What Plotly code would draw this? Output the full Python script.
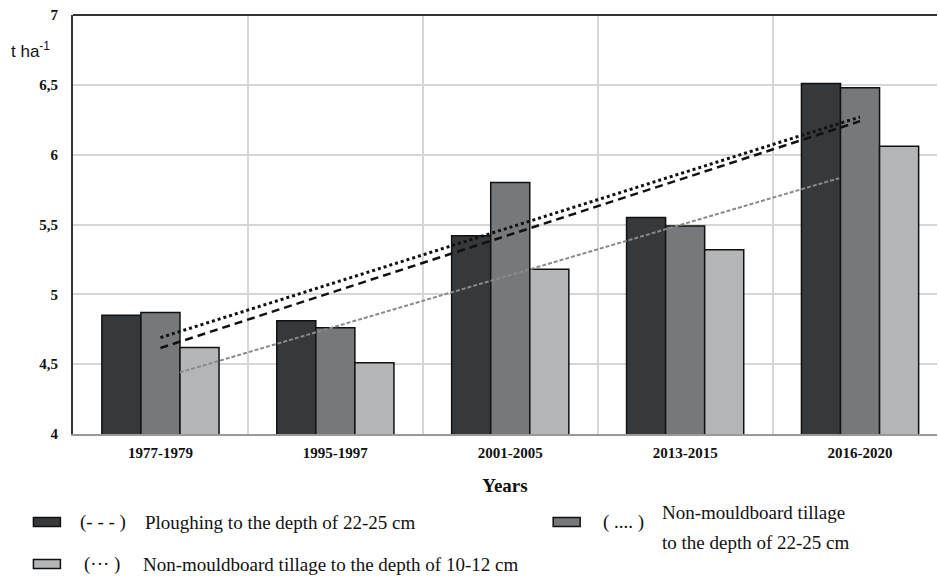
import numpy as np
import plotly.graph_objects as go

categories = ["1977-1979", "1995-1997", "2001-2005", "2013-2015", "2016-2020"]
ploughing_22_25 = [4.85, 4.81, 5.42, 5.55, 6.51]
nonmould_22_25 = [4.87, 4.76, 5.80, 5.49, 6.48]
nonmould_10_12 = [4.62, 4.51, 5.18, 5.32, 6.06]
y_ticks = [4, 4.5, 5, 5.5, 6, 6.5, 7]
y_tick_labels = ["4", "4,5", "5", "5,5", "6", "6,5", "7"]
legend_names = ["Ploughing to the depth of 22-25 cm",
                "Non-mouldboard tillage<br>to the depth of 22-25 cm",
                "Non-mouldboard tillage to the depth of 10-12 cm"]
legend_marks = ["(- - - )", "( .... )", "(··· )"]

C_DARK, C_MED, C_LIGHT = "#36393b", "#76797b", "#b3b5b7"
W, H = 939, 579
L, R, T, B = 72.6, 937, 15, 434
idx = np.arange(len(categories))

def fx(px):
    return (px - L) / (R - L)

def fy(py):
    return (B - py) / (B - T)

fig = go.Figure()
for vals, col, name in zip([ploughing_22_25, nonmould_22_25, nonmould_10_12],
                           [C_DARK, C_MED, C_LIGHT], legend_names):
    fig.add_trace(go.Bar(x=idx, y=vals, marker=dict(color=col, line=dict(color="#111", width=1.5)),
                         name=name, showlegend=False))

def trend(vals):
    k, b = np.polyfit(idx, vals, 1)
    return k, b

for vals, x0, x1, col, dash, wd in [
    (ploughing_22_25, 0.0, 4.0, "#111", "8px,5px", 2.5),
    (nonmould_22_25, 0.0, 4.0, "#111", "dot", 3),
    (nonmould_10_12, 0.11, 3.88, "#8a8a8a", "4px,2px", 2),
]:
    k, b = trend(vals)
    xs = np.array([x0, x1])
    fig.add_trace(go.Scatter(x=xs, y=k * xs + b, mode="lines",
                             line=dict(color=col, dash=dash, width=wd), showlegend=False,
                             hoverinfo="skip"))

fig.update_layout(
    width=W, height=H,
    margin=dict(l=L, r=W - R, t=T, b=H - B),
    plot_bgcolor="white", paper_bgcolor="white",
    barmode="group", bargap=0.33, bargroupgap=0,
    showlegend=False,
    font=dict(family="Liberation Serif", color="#111"),
)
fig.update_xaxes(
    range=[-0.5, 4.44], tickmode="array", tickvals=idx,
    ticktext=["<b>%s</b>" % c for c in categories],
    tickfont=dict(family="Liberation Serif", size=15, color="#111"),
    showgrid=False, ticks="", ticklen=0, ticklabelstandoff=4,
    minor=dict(tickmode="array", tickvals=list(idx[:-1] + 0.5) + [4.5], showgrid=True,
               gridcolor="#d6d6d6", gridwidth=2, ticks=""),
    showline=True, linecolor="#999", linewidth=2,
    title=dict(text="<b>Years</b>", font=dict(family="Liberation Serif", size=19, color="#111"),
               standoff=19),
)
fig.update_yaxes(
    range=[4, 7], tickmode="array", tickvals=y_ticks,
    ticktext=["<b>%s</b>" % t for t in y_tick_labels],
    tickfont=dict(family="Liberation Serif", size=15, color="#111"),
    showgrid=True, gridcolor="#d6d6d6", gridwidth=2, zeroline=False,
    showline=True, linecolor="#333", linewidth=2, ticks="", ticklabelstandoff=10,
)
# top frame line
fig.add_shape(type="line", xref="paper", yref="paper", x0=0, x1=1, y0=1, y1=1,
              line=dict(color="#333", width=2))

annotations = [
    dict(text="t ha<sup>-1</sup>", x=fx(9), y=fy(50), xanchor="left", yanchor="middle",
         font=dict(family="Liberation Sans", size=17, color="#111")),
]
# legend swatches and labels
items = [
    (33, 522, C_DARK, 78, 143, [522], 0),
    (553, 522, C_MED, 601, 660, [512, 542], 1),
    (33, 564, C_LIGHT, 82, 141, [564], 2),
]
for sx, sy, col, mx, tx, tys, i in items:
    fig.add_shape(type="rect", xref="paper", yref="paper",
                  x0=fx(sx), x1=fx(sx + 27), y0=fy(sy + 4.5), y1=fy(sy - 4.5),
                  fillcolor=col, line=dict(color="#111", width=1.5))
    annotations.append(dict(text=legend_marks[i], x=fx(mx), y=fy(sy), xanchor="left",
                            yanchor="middle", font=dict(family="Liberation Serif", size=19, color="#111")))
    for line, ty in zip(legend_names[i].split("<br>"), tys):
        annotations.append(dict(text=line, x=fx(tx), y=fy(ty), xanchor="left",
                                yanchor="middle", align="left",
                                font=dict(family="Liberation Serif", size=19, color="#111")))
for a in annotations:
    a.update(xref="paper", yref="paper", showarrow=False)
fig.update_layout(annotations=annotations)

fig.write_html("out.html", config={"displayModeBar": False},
               post_script="document.body.style.margin='0';document.body.style.overflow='hidden';")
